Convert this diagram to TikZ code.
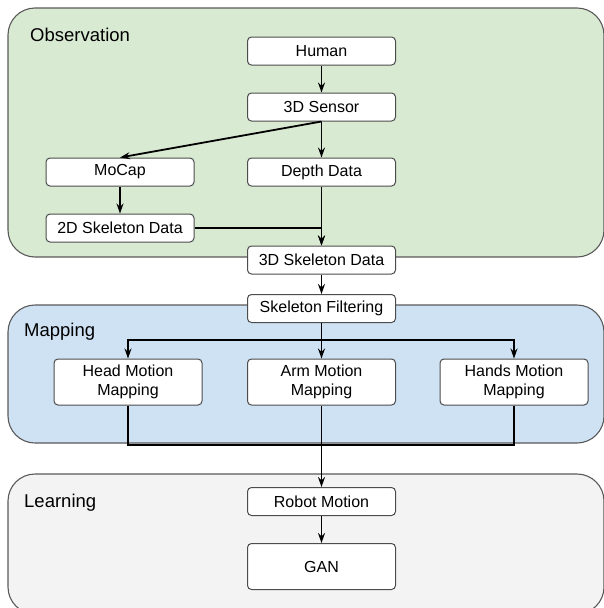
\documentclass[tikz,border=0pt]{standalone}
\usepackage{fontspec}
\setmainfont{Liberation Sans}
\usetikzlibrary{arrows.meta}

\definecolor{obsgreen}{HTML}{D9EAD3}
\definecolor{mapblue}{HTML}{CFE2F3}
\definecolor{learngray}{HTML}{F3F3F3}

\tikzset{
  panel/.style={draw=black!65, line width=1.1pt, rounded corners=27pt},
  paneltitle/.style={anchor=base west, inner sep=0pt, font=\fontsize{18.5}{22}\selectfont},
  stage/.style={draw=black!70, fill=white, rounded corners=4pt, line width=1pt,
    minimum width=148pt, minimum height=28pt, inner sep=0pt, align=center,
    font=\fontsize{16}{19.5}\selectfont},
  tallstage/.style={stage, minimum height=46pt},
  flow/.style={-{Stealth[length=10pt,width=7pt,inset=3.5pt]}, line width=1.8pt},
  link/.style={line width=1.8pt}
}

\begin{document}
\begin{tikzpicture}[x=1pt,y=-1pt]
\useasboundingbox (0,0) rectangle (604,608);

% the three stages of the pipeline
\begin{scope}
  \clip (0,0) rectangle (604,608);
  \draw[panel, fill=obsgreen] (8,8) rectangle (604,257);
  \draw[panel, fill=mapblue] (8,305) rectangle (604,443);
  \draw[panel, fill=learngray] (8,474) rectangle (604,614);
\end{scope}
\node[paneltitle] (obstitle) at (30,41) {Observation};
\node[paneltitle] (maptitle) at (24,336) {Mapping};
\node[paneltitle] (learntitle) at (24,507) {Learning};

% observation
\node[stage] (human) at (321.5,51) {Human};
\node[stage] (sensor) at (321.5,107) {3D Sensor};
\node[stage] (mocap) at (120,172) {MoCap};
\node[stage] (depth) at (321.5,172) {Depth Data};
\node[stage] (skel2d) at (120,228) {2D Skeleton Data};
\node[stage] (skel3d) at (321.5,260) {3D Skeleton Data};
\node[stage] (filter) at (321.5,308.5) {Skeleton Filtering};

% mapping
\node[tallstage] (head) at (128,382) {Head Motion\\Mapping};
\node[tallstage] (arm) at (321.5,382) {Arm Motion\\Mapping};
\node[tallstage] (hands) at (514,382) {Hands Motion\\Mapping};

% learning
\node[stage] (robot) at (321.5,501.5) {Robot Motion};
\node[tallstage] (gan) at (321.5,566.5) {GAN};

\coordinate (split) at (321.5,340);
\coordinate (merge) at (321.5,445);

\draw[flow] (human) -- (sensor);
\draw[flow] (sensor.south) -- (mocap.north);
\draw[flow] (sensor) -- (depth);
\draw[flow] (mocap) -- (skel2d);
\draw[flow] (depth) -- (skel3d);
\draw[flow] (skel2d.east) -| (skel3d.north);
\draw[flow] (skel3d) -- (filter);

\draw[flow] (filter) -- (arm);
\draw[flow] (split) -| (head.north);
\draw[flow] (split) -| (hands.north);

\draw[link] (head.south) |- (merge);
\draw[link] (hands.south) |- (merge);
\draw[flow] (arm) -- (robot);
\draw[flow] (robot) -- (gan);

\end{tikzpicture}
\end{document}
